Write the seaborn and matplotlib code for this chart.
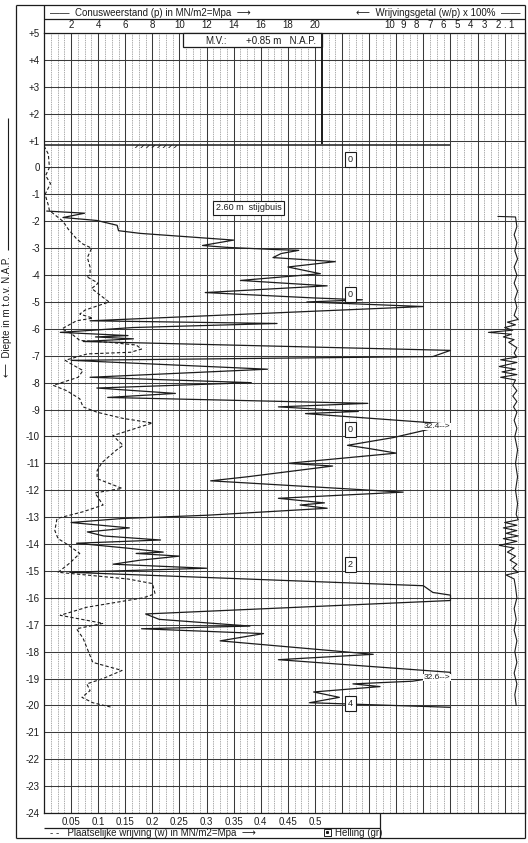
import matplotlib

matplotlib.use("Agg")
import matplotlib.pyplot as plt
from matplotlib.ticker import FixedLocator, FixedFormatter, MultipleLocator
import numpy as np
import pandas as pd
import seaborn as sns

sns.set_style("white")
plt.rcParams["font.family"] = ["Liberation Sans", "DejaVu Sans"]
plt.rcParams["hatch.linewidth"] = 0.6

# ---- data ----
# cone resistance (p) in MPa against depth in m N.A.P.
cone_depth = [-1.62, -1.70, -1.86, -1.97, -2.15, -2.35, -2.45, -2.70, -2.90, -2.97,
              -3.05, -3.08, -3.20, -3.35, -3.50, -3.70, -3.95, -4.20, -4.40, -4.65,
              -4.85, -4.92, -5.00, -5.17, -5.70, -5.80, -5.95, -6.13, -6.25, -6.30,
              -6.37, -6.47, -6.80, -7.03, -7.17, -7.50, -7.80, -8.00, -8.20, -8.40,
              -8.55, -8.77, -8.90, -9.07, -9.15, -9.48, -9.55, -10.04, -10.33, -10.45,
              -10.62, -11.00, -11.10, -11.50, -11.65, -12.07, -12.30, -12.47, -12.55, -12.67,
              -12.93, -13.05, -13.20, -13.40, -13.55, -13.70, -13.85, -13.97, -14.15, -14.30,
              -14.35, -14.45, -14.60, -14.75, -14.90, -15.05, -15.55, -15.80, -15.90, -16.10,
              -16.60, -16.80, -17.05, -17.15, -17.33, -17.60, -18.10, -18.30, -18.77, -18.88,
              -19.10, -19.20, -19.30, -19.50, -19.70, -19.90, -20.07]
cone_qc = [0.2, 3.0, 1.4, 3.9, 5.4, 5.5, 7.1, 14.0, 11.7, 13.5,
           17.0, 18.8, 17.5, 16.9, 21.5, 18.0, 20.4, 14.5, 20.9, 11.9,
           19.9, 23.5, 19.4, 28.0, 3.4, 17.2, 6.6, 1.2, 6.2, 3.8,
           6.6, 2.9, 30.0, 28.7, 2.0, 16.5, 3.4, 15.3, 3.9, 9.7,
           4.7, 23.9, 17.3, 23.2, 19.3, 28.3, 30.0, 25.8, 22.4, 24.0,
           26.0, 18.0, 21.3, 15.0, 12.3, 26.5, 17.3, 20.7, 18.9, 20.9,
           12.0, 5.8, 2.0, 6.3, 3.2, 4.4, 8.6, 2.4, 6.1, 8.8,
           6.8, 10.0, 7.1, 5.1, 12.0, 1.9, 28.0, 28.7, 30.0, 30.0,
           7.5, 8.5, 15.2, 7.2, 16.2, 13.0, 24.3, 17.3, 30.0, 30.0,
           27.2, 22.8, 24.8, 19.9, 21.8, 19.6, 30.0]

# local friction (w) in MPa
fs_depth = [0.80, 0.50, 0.00, -0.30, -0.60, -1.00, -1.40, -1.60, -2.00, -2.30,
            -2.65, -2.85, -3.00, -3.35, -3.70, -4.00, -4.05, -4.30, -4.50, -4.83,
            -5.00, -5.30, -5.45, -5.60, -5.70, -6.00, -6.17, -6.43, -6.50, -6.60,
            -6.75, -6.87, -6.93, -7.17, -7.35, -7.55, -7.80, -8.10, -8.30, -8.60,
            -8.90, -9.10, -9.33, -9.50, -9.97, -10.33, -10.50, -10.97, -11.27, -11.57,
            -11.93, -12.10, -12.55, -12.80, -13.05, -13.50, -13.80, -14.00, -14.35, -14.70,
            -15.05, -15.30, -15.47, -15.85, -16.00, -16.35, -16.65, -16.95, -17.15, -17.50,
            -17.95, -18.40, -18.70, -19.00, -19.20, -19.45, -19.70, -19.90, -20.07]
fs_value = [0.0, 0.008, 0.01, 0.003, 0.012, 0.002, 0.008, 0.01, 0.035, 0.045,
            0.06, 0.072, 0.088, 0.08, 0.085, 0.085, 0.078, 0.10, 0.088, 0.109,
            0.12, 0.076, 0.066, 0.09, 0.06, 0.033, 0.05, 0.066, 0.12, 0.17,
            0.18, 0.16, 0.08, 0.039, 0.054, 0.072, 0.063, 0.017, 0.042, 0.066,
            0.072, 0.098, 0.146, 0.20, 0.127, 0.146, 0.134, 0.107, 0.098, 0.098,
            0.144, 0.094, 0.109, 0.072, 0.024, 0.02, 0.026, 0.042, 0.066, 0.048,
            0.026, 0.155, 0.20, 0.205, 0.183, 0.079, 0.03, 0.109, 0.06, 0.072,
            0.081, 0.09, 0.144, 0.109, 0.079, 0.085, 0.07, 0.09, 0.125]

# friction ratio (w/p) x 100 %
fr_depth = [-1.82, -1.84, -2.2, -2.5, -2.8, -3.1, -3.4, -3.7, -4.0, -4.3,
            -4.6, -4.9, -5.2, -5.5, -5.65, -5.75, -5.85, -5.95, -6.05, -6.13,
            -6.2, -6.3, -6.4, -6.5, -6.7, -6.9, -7.05, -7.15, -7.25, -7.4,
            -7.5, -7.6, -7.7, -7.8, -7.9, -8.1, -8.3, -8.5, -8.7, -8.9,
            -9.1, -9.4, -9.7, -10.0, -10.5, -11.0, -11.5, -12.0, -12.5, -12.9,
            -13.1, -13.2, -13.3, -13.4, -13.5, -13.6, -13.7, -13.8, -13.9, -14.05,
            -14.15, -14.3, -14.45, -14.6, -14.75, -14.9, -15.05, -15.15, -15.3, -15.6,
            -16.0, -16.4, -16.8, -17.2, -17.6, -18.0, -18.4, -18.8, -19.2, -19.6, -20.0]
fr_value = [2.0, 0.7, 0.6, 0.8, 0.6, 0.75, 0.55, 0.8, 0.6, 0.8,
            0.55, 0.75, 0.6, 0.8, 0.5, 1.3, 0.7, 1.5, 0.9, 2.7,
            1.0, 1.6, 0.8, 1.2, 0.6, 0.8, 0.6, 1.8, 0.6, 1.9,
            0.7, 1.7, 0.6, 1.8, 0.7, 0.9, 0.6, 0.9, 0.6, 0.85,
            0.6, 0.8, 0.6, 0.75, 0.55, 0.7, 0.55, 0.7, 0.55, 0.65,
            0.5, 1.5, 0.6, 1.6, 0.6, 1.4, 0.5, 1.6, 0.6, 1.9,
            0.8, 1.3, 0.7, 1.1, 0.6, 0.9, 0.5, 1.4, 0.8, 0.7,
            0.6, 0.8, 0.65, 0.8, 0.6, 0.75, 0.6, 0.8, 0.6, 0.75, 0.65]

# inclination (Helling) markers and off-scale notes
helling_depth = [0.3, -4.72, -9.74, -14.76, -19.93]
helling_value = ["0", "0", "0", "2", "4"]
offscale_depth = [-9.63, -18.96]
offscale_text = ["32.4-->", "32.6-->"]

mv_level = 0.85
qc_ticks = [2, 4, 6, 8, 10, 12, 14, 16, 18, 20]
fr_ticks = [10, 9, 8, 7, 6, 5, 4, 3, 2, 1.5, 1]
fr_labels = ["10", "9", "8", "7", "6", "5", "4", "3", "2", ".", "1"]
fs_ticks = [0.05, 0.1, 0.15, 0.2, 0.25, 0.3, 0.35, 0.4, 0.45, 0.5]
depth_ticks = list(range(5, -25, -1))

cone = pd.DataFrame({"depth": cone_depth, "qc": cone_qc})
fric = pd.DataFrame({"depth": fs_depth, "fs": fs_value})
ratio = pd.DataFrame({"depth": fr_depth, "fr": fr_value})

# ---- figure ----
W, H = 528, 843
QMAX = 35.5
INK = "#1c1c1c"
fig = plt.figure(figsize=(W / 100, H / 100), dpi=100)
fig.patch.set_facecolor("white")

x0, x1, ytop, ybot = 44, 525, 33, 813
ax = fig.add_axes([x0 / W, (H - ybot) / H, (x1 - x0) / W, (ybot - ytop) / H])
ax.set_xlim(0, QMAX)
ax.set_ylim(-24, 5)

# local friction on its own scale (0.5 MPa = 20 MPa), friction ratio reversed
ax_fs = ax.twiny()
ax_fr = ax.twiny()

# grid on the main axes
major_pos = list(range(0, 36, 2))
ax.xaxis.set_major_locator(FixedLocator(major_pos))
ax.xaxis.set_minor_locator(MultipleLocator(0.5))
ax.yaxis.set_major_locator(FixedLocator(depth_ticks))
ax.grid(which="major", axis="both", color="#3a3a3a", lw=0.75)
ax.grid(which="minor", axis="x", color="#8c8c8c", lw=0.5, linestyle=(0, (2, 1.3)))
ax.set_axisbelow(True)

ax.xaxis.set_ticks_position("top")
ax.xaxis.set_label_position("top")
ax.xaxis.set_major_formatter(FixedFormatter(
    [str(p) if p in qc_ticks else "" for p in major_pos]))
ax.tick_params(axis="x", which="both", length=0, pad=2.5, labelsize=7, colors=INK,
               labeltop=True, labelbottom=False)
ax.set_yticklabels(["0" if d == 0 else f"{d:+d}" for d in depth_ticks])
ax.tick_params(axis="y", length=0, pad=3, labelsize=7, colors=INK)
for s in ax.spines.values():
    s.set_color(INK)
    s.set_linewidth(0.9)

# cone resistance
sns.lineplot(data=cone, x="qc", y="depth", sort=False, estimator=None,
             color=INK, lw=0.9, ax=ax, legend=False)
ax.hlines(mv_level, 0, 30, color=INK, lw=1.1)
ax.fill_between([6.6, 9.9], mv_level - 0.14, mv_level, facecolor="none",
                edgecolor=INK, hatch="//////", lw=0)
ax.set_xlabel("")
ax.set_ylabel("")

for d, v in zip(helling_depth, helling_value):
    ax.text(22.6, d, v, ha="center", va="center", fontsize=6.5, color=INK,
            bbox=dict(boxstyle="square,pad=0.35", fc="white", ec=INK, lw=0.8))
for d, t in zip(offscale_depth, offscale_text):
    ax.text(30.0, d, t, ha="right", va="center", fontsize=6, color=INK,
            bbox=dict(boxstyle="square,pad=0.05", fc="white", ec="none"))
ax.text(15.1, -1.5, "2.60 m  stijgbuis", ha="center", va="center", fontsize=6.5,
        color=INK, bbox=dict(boxstyle="square,pad=0.3", fc="white", ec=INK, lw=0.8))

ax_fs.set_xlim(0, QMAX / 40)
ax_fs.xaxis.set_ticks_position("bottom")
ax_fs.xaxis.set_label_position("bottom")
ax_fs.set_xticks(fs_ticks)
ax_fs.set_xticklabels([f"{v:g}" for v in fs_ticks])
ax_fs.tick_params(axis="x", length=0, pad=3, labelsize=7, colors=INK,
                  labelbottom=True, labeltop=False)
sns.lineplot(data=fric, x="fs", y="depth", sort=False, estimator=None,
             color=INK, lw=0.8, linestyle=(0, (3, 2)), ax=ax_fs, legend=False)
ax_fs.set_xlabel("")
ax_fs.grid(False)
for s in ax_fs.spines.values():
    s.set_visible(False)

ax_fr.set_xlim(QMAX, 0)
ax_fr.set_xticks(fr_ticks)
ax_fr.set_xticklabels(fr_labels)
ax_fr.tick_params(axis="x", length=0, pad=2.5, labelsize=7, colors=INK)
sns.lineplot(data=ratio, x="fr", y="depth", sort=False, estimator=None,
             color=INK, lw=0.8, ax=ax_fr, legend=False)
ax_fr.set_xlabel("")
ax_fr.grid(False)
for s in ax_fr.spines.values():
    s.set_visible(False)
ax_fs.set_ylim(-24, 5)
ax_fr.set_ylim(-24, 5)

# ---- sheet frame and header (pixel overlay) ----
ov = fig.add_axes([0, 0, 1, 1], zorder=10)
ov.set_xlim(0, W)
ov.set_ylim(H, 0)
ov.axis("off")
ov.patch.set_alpha(0)


def seg(xa, ya, xb, yb, lw=0.9):
    ov.plot([xa, xb], [ya, yb], color=INK, lw=lw, solid_capstyle="butt")


seg(16, 5, 525, 5)
seg(16, 5, 16, 838)
seg(16, 838, 525, 838)
seg(525, 5, 525, 838)
seg(44, 5, 44, 33)
seg(44, 19, 525, 19)
seg(44, 828, 380, 828)
seg(380, 813, 380, 838)
seg(322, 33, 322, 144, lw=1.4)
ov.add_patch(plt.Rectangle((183, 33), 139, 14, fc="white", ec=INK, lw=0.9))
ov.text(205, 40.5, "M.V.:", fontsize=7, va="center", color=INK)
ov.text(246, 40.5, "+0.85 m   N.A.P.", fontsize=7, va="center", color=INK)

ov.text(50, 12.5, "——  Conusweerstand (p) in MN/m2=Mpa  ⟶", fontsize=7,
        va="center", color=INK)
ov.text(520, 12.5, "⟵  Wrijvingsgetal (w/p) x 100%  ——", fontsize=7,
        va="center", ha="right", color=INK)
ov.text(50, 833, "- -   Plaatselijke wrijving (w) in MN/m2=Mpa  ⟶", fontsize=7,
        va="center", color=INK)
ov.add_patch(plt.Rectangle((324, 829), 6.5, 6.5, fc="white", ec=INK, lw=0.7))
ov.plot([327.2], [832.2], marker="s", ms=1.2, color=INK)
ov.text(335, 833, "Helling (gr)", fontsize=7, va="center", color=INK)

seg(7.5, 118, 7.5, 250, lw=0.8)
ov.text(7.5, 377, "⟵  Diepte in m t.o.v. N.A.P.", fontsize=7, rotation=90,
        ha="center", va="bottom", color=INK)

fig.savefig("out.png", dpi=100)
